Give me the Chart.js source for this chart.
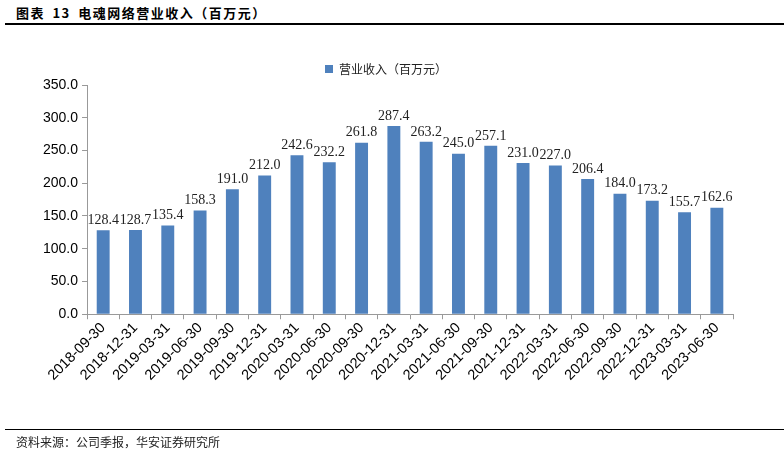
<!DOCTYPE html>
<html>
<head>
<meta charset="utf-8">
<script src="https://cdn.jsdelivr.net/npm/chart.js@4.4.0/dist/chart.umd.min.js"></script>
<style>
  body { margin: 0; background: #fff; width: 784px; height: 457px; position: relative; overflow: hidden; }
  #title { position: absolute; left: 16px; top: 3px; font: bold 13px "Noto Sans CJK SC", sans-serif; color: #000; letter-spacing: 1.5px; word-spacing: 3px; }
  #topline { position: absolute; left: 5px; right: 0; top: 23px; border-top: 2px solid #000; }
  #botline { position: absolute; left: 5px; right: 0; top: 429px; border-top: 1px solid #000; }
  #source { position: absolute; left: 16px; top: 433px; font: 12px "Noto Sans CJK SC", sans-serif; color: #222; }
  #wrap { position: absolute; left: 0; top: 0; width: 784px; height: 457px; }
</style>
</head>
<body>
<div id="title">图表 13 电魂网络营业收入（百万元）</div>
<div id="topline"></div>
<div id="wrap"><canvas id="chart"></canvas></div>
<div id="botline"></div>
<div id="source">资料来源：公司季报，华安证券研究所</div>
<script>
const periods = ['2018-09-30', '2018-12-31', '2019-03-31', '2019-06-30', '2019-09-30', '2019-12-31',
  '2020-03-31', '2020-06-30', '2020-09-30', '2020-12-31', '2021-03-31', '2021-06-30', '2021-09-30',
  '2021-12-31', '2022-03-31', '2022-06-30', '2022-09-30', '2022-12-31', '2023-03-31', '2023-06-30'];
const revenue = [128.4, 128.7, 135.4, 158.3, 191.0, 212.0, 242.6, 232.2, 261.8, 287.4, 263.2, 245.0, 257.1,
  231.0, 227.0, 206.4, 184.0, 173.2, 155.7, 162.6];
const seriesName = '营业收入（百万元）';

// value labels above each bar
const barLabels = {
  id: 'barLabels',
  afterDatasetsDraw(chart) {
    const ctx = chart.ctx;
    const meta = chart.getDatasetMeta(0);
    ctx.save();
    ctx.font = '14px "Liberation Serif", serif';
    ctx.fillStyle = '#222';
    ctx.textAlign = 'center';
    ctx.textBaseline = 'bottom';
    meta.data.forEach((bar, i) => {
      ctx.fillText(revenue[i].toFixed(1), bar.x, bar.y - 3);
    });
    ctx.restore();
  }
};

new Chart(document.getElementById('chart'), {
  type: 'bar',
  data: {
    labels: periods,
    datasets: [{
      label: seriesName,
      data: revenue,
      backgroundColor: '#4F81BD',
      categoryPercentage: 1,
      barPercentage: 0.4,
    }],
  },
  options: {
    responsive: true,
    maintainAspectRatio: false,
    animation: false,
    layout: { padding: { left: 39, right: 51, top: 57, bottom: 73 } },
    plugins: {
      legend: {
        position: 'top',
        labels: { boxWidth: 8, boxHeight: 8, padding: 6, color: '#222', font: { size: 12, family: '"Noto Sans CJK SC", sans-serif' } },
      },
      tooltip: { enabled: false },
    },
    scales: {
      x: {
        grid: { drawOnChartArea: false, offset: true, tickLength: 5, color: '#999' },
        border: { color: '#999' },
        ticks: { minRotation: 45, maxRotation: 45, color: '#000', padding: 0, font: { size: 14.5, family: '"Liberation Sans", Arial, sans-serif' } },
      },
      y: {
        min: 0,
        max: 350,
        grid: { drawOnChartArea: false, tickLength: 5, color: '#999' },
        border: { color: '#999' },
        ticks: { stepSize: 50, color: '#000', padding: 4, font: { size: 14, family: '"Liberation Sans", Arial, sans-serif' }, callback: v => v.toFixed(1) },
      },
    },
  },
  plugins: [barLabels],
});
</script>
</body>
</html>
